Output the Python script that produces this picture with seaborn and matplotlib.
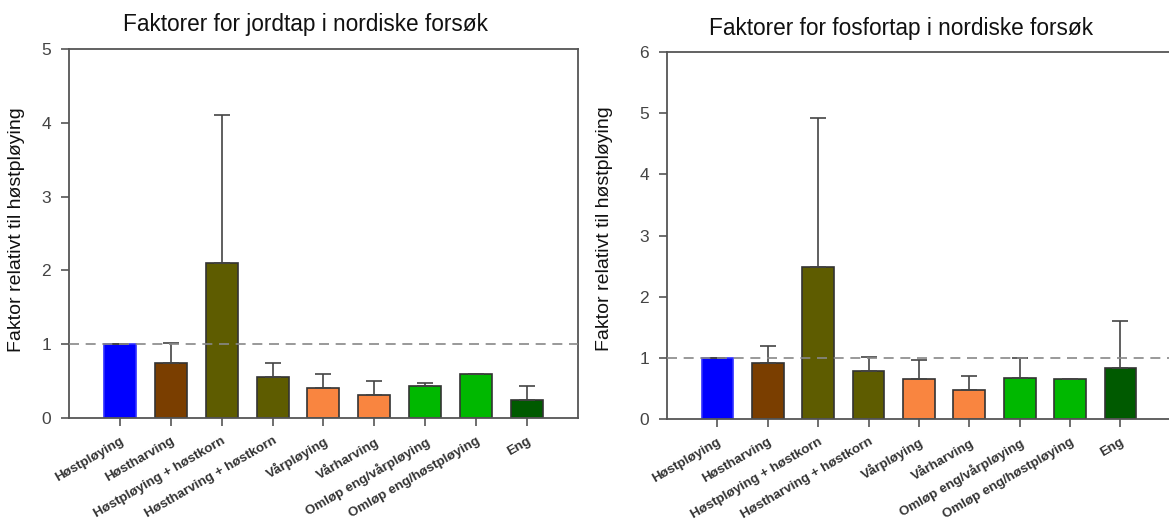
import matplotlib
matplotlib.use("Agg")
import matplotlib.pyplot as plt
import seaborn as sns
import pandas as pd
import numpy as np

categories = ["Høstpløying", "Høstharving", "Høstpløying + høstkorn", "Høstharving + høstkorn",
              "Vårpløying", "Vårharving", "Omløp eng/vårpløying", "Omløp eng/høstpløying", "Eng"]
soil_values = [1.0, 0.75, 2.1, 0.56, 0.41, 0.31, 0.43, 0.60, 0.25]
soil_upper = [1.0, 1.02, 4.1, 0.75, 0.60, 0.50, 0.47, 0.60, 0.43]
phos_values = [1.0, 0.91, 2.48, 0.78, 0.65, 0.47, 0.67, 0.65, 0.84]
phos_upper = [1.0, 1.19, 4.92, 1.01, 0.97, 0.71, 1.0, 0.65, 1.61]
bar_colors = ["#0000FF", "#7A3E00", "#5E5C00", "#5E5C00", "#F98540", "#F98540",
              "#00B800", "#00B800", "#005A00"]
soil_ticks = [0, 1, 2, 3, 4, 5]
phos_ticks = [0, 1, 2, 3, 4, 5, 6]

sns.set_style("white")
plt.rcParams["font.family"] = ["Liberation Sans", "DejaVu Sans"]

fig = plt.figure(figsize=(11.69, 5.29), dpi=100)
ax1 = fig.add_axes([0.0590, 0.2098, 0.4354, 0.6975])
ax2 = fig.add_axes([0.5706, 0.2079, 0.4310, 0.6938])

def draw(ax, values, upper, ticks, title, hidden, label_xy, title_x, title_pad):
    df = pd.DataFrame({"cat": categories, "val": values})
    sns.barplot(data=df, x="cat", y="val", hue="cat", palette=bar_colors, legend=False,
                ax=ax, width=0.63, edgecolor="#333333", linewidth=1.2, saturation=1)
    ax.patches[0].set_edgecolor("#3030ff")
    x = np.arange(len(categories))
    err = np.array(upper) - np.array(values)
    ax.errorbar(x, values, yerr=[np.zeros(len(values)), err], fmt="none",
                ecolor="#444444", elinewidth=1.2, capsize=6, capthick=1.2, zorder=3)
    ax.axhline(1, color="#888888", linestyle=(0, (6, 4)), linewidth=1.2, zorder=4)
    ax.set_ylim(0, ticks[-1])
    ax.set_yticks(ticks)
    ax.set_yticklabels([str(t) for t in ticks], fontsize=12.5, color="#444444")
    ax.set_xlim(-1.0, 9.0)
    ax.set_xticks(x)
    ax.set_xticklabels(categories, rotation=30, ha="right", rotation_mode="anchor",
                       fontsize=9.6, fontweight="bold", color="#333333")
    ax.tick_params(axis="both", direction="out", length=6, width=1.2, color="#555555",
                   bottom=True, left=True)
    ax.tick_params(axis="y", pad=7)
    ax.tick_params(axis="x", pad=6)
    ax.set_xlabel("")
    ax.set_ylabel("Faktor relativt til høstpløying", fontsize=14, color="#111111")
    ax.yaxis.set_label_coords(*label_xy)
    ax.set_title(title, fontsize=16.3, color="#111111", x=title_x, pad=title_pad)
    for s in ax.spines.values():
        s.set_color("#555555")
        s.set_linewidth(1.3)
    for s in hidden:
        ax.spines[s].set_visible(False)

draw(ax1, soil_values, soil_upper, soil_ticks, "Faktorer for jordtap i nordiske forsøk", [],
     (-0.086, 0.51), 0.464, 13)
draw(ax2, phos_values, phos_upper, phos_ticks, "Faktorer for fosfortap i nordiske forsøk", ["right"],
     (-0.107, 0.52), 0.465, 12)

fig.savefig("out.png", dpi=100)
